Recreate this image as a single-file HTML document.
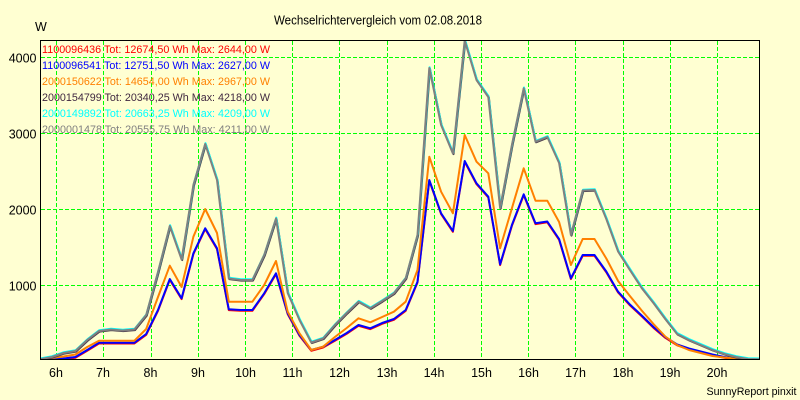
<!DOCTYPE html>
<html><head><meta charset="utf-8"><style>
html,body{margin:0;padding:0;background:#ffffd2;}
svg{display:block;}
text{font-family:"Liberation Sans",Arial,sans-serif;}
</style></head><body>
<svg width="800" height="400" viewBox="0 0 800 400" xmlns="http://www.w3.org/2000/svg">
<rect x="0" y="0" width="800" height="400" fill="#ffffd2"/>
<defs>
<clipPath id="pc"><rect x="40" y="40" width="720" height="320"/></clipPath>
<pattern id="hd" x="41" y="0" width="6" height="400" patternUnits="userSpaceOnUse"><rect x="0" y="0" width="4" height="400" fill="#00ff00"/></pattern>
</defs>
<text x="274" y="24.5" font-size="12.5" textLength="208" lengthAdjust="spacingAndGlyphs" fill="#000">Wechselrichtervergleich vom 02.08.2018</text>
<text x="35" y="31" font-size="12.5" fill="#000">W</text>
<g fill="url(#hd)" shape-rendering="crispEdges">
<rect x="41" y="57" width="718" height="1"/>
<rect x="41" y="133" width="718" height="1"/>
<rect x="41" y="209" width="718" height="1"/>
<rect x="41" y="285" width="718" height="1"/>
</g>
<g stroke="#00ff00" stroke-width="1" stroke-dasharray="4,2" fill="none" shape-rendering="crispEdges">
<line x1="56.5" y1="41" x2="56.5" y2="359"/>
<line x1="103.5" y1="41" x2="103.5" y2="359"/>
<line x1="151.5" y1="41" x2="151.5" y2="359"/>
<line x1="198.5" y1="41" x2="198.5" y2="359"/>
<line x1="245.5" y1="41" x2="245.5" y2="359"/>
<line x1="292.5" y1="41" x2="292.5" y2="359"/>
<line x1="339.5" y1="41" x2="339.5" y2="359"/>
<line x1="387.5" y1="41" x2="387.5" y2="359"/>
<line x1="434.5" y1="41" x2="434.5" y2="359"/>
<line x1="481.5" y1="41" x2="481.5" y2="359"/>
<line x1="528.5" y1="41" x2="528.5" y2="359"/>
<line x1="575.5" y1="41" x2="575.5" y2="359"/>
<line x1="623.5" y1="41" x2="623.5" y2="359"/>
<line x1="670.5" y1="41" x2="670.5" y2="359"/>
<line x1="717.5" y1="41" x2="717.5" y2="359"/>
</g>
<g font-size="11">
<text x="42" y="53" textLength="228" lengthAdjust="spacingAndGlyphs" fill="#ff0000">1100096436 Tot: 12674,50 Wh Max: 2644,00 W</text>
<text x="42" y="69" textLength="228" lengthAdjust="spacingAndGlyphs" fill="#0000ff">1100096541 Tot: 12751,50 Wh Max: 2627,00 W</text>
<text x="42" y="85" textLength="228" lengthAdjust="spacingAndGlyphs" fill="#ff8000">2000150622 Tot: 14654,00 Wh Max: 2967,00 W</text>
<text x="42" y="101" textLength="228" lengthAdjust="spacingAndGlyphs" fill="#402840">2000154799 Tot: 20340,25 Wh Max: 4218,00 W</text>
<text x="42" y="117" textLength="228" lengthAdjust="spacingAndGlyphs" fill="#00ffff">2000149892 Tot: 20663,25 Wh Max: 4209,00 W</text>
<text x="42" y="133" textLength="228" lengthAdjust="spacingAndGlyphs" fill="#808080">2000001478 Tot: 20555,75 Wh Max: 4211,00 W</text>
</g>
<g clip-path="url(#pc)" fill="none" stroke-width="2" stroke-linejoin="round">
<polyline transform="translate(0,0.8)" stroke="#ff0000" points="40,359.3 51.8,359.3 63.6,358.5 75.4,357 87.2,350 99,342.7 110.8,342.7 122.6,342.7 134.4,342.7 146.2,334 158,310 169.8,279 181.6,298.3 193.4,253.3 205.2,228.3 217,248.3 228.8,309.3 240.6,310 252.4,310 264.2,293.3 276,273.3 287.7,313.3 299.5,335 311.3,350 323.1,346.7 334.9,340 346.7,333 358.5,325 370.3,328.3 382.1,323 393.9,319 405.7,310 417.5,281.7 429.3,180 441.1,213.3 452.9,231 464.7,161 476.5,183.3 488.3,196.7 500.1,264.3 511.9,225 523.7,194.3 535.5,223.3 547.3,221.5 559.1,239 570.9,278.3 582.7,255 594.5,255 606.3,271.5 618.1,291.7 629.9,304.5 641.7,315.5 653.5,327 665.3,337 677.1,344.5 688.9,348.5 700.7,351.5 712.5,354.5 724.3,357 736.1,358.5 747.9,359.3"/>
<polyline stroke="#0000ff" points="40,359.3 51.8,359.3 63.6,358.5 75.4,357 87.2,350 99,342.7 110.8,342.7 122.6,342.7 134.4,342.7 146.2,334 158,310 169.8,279 181.6,298.3 193.4,253.3 205.2,228.3 217,248.3 228.8,309.3 240.6,310 252.4,310 264.2,293.3 276,273.3 287.7,313.3 299.5,335 311.3,350 323.1,346.7 334.9,340 346.7,333 358.5,325 370.3,328.3 382.1,323 393.9,319 405.7,310 417.5,281.7 429.3,180 441.1,213.3 452.9,231 464.7,161 476.5,183.3 488.3,196.7 500.1,264.3 511.9,225 523.7,194.3 535.5,223.3 547.3,221.5 559.1,239 570.9,278.3 582.7,255 594.5,255 606.3,271.5 618.1,291.7 629.9,304.5 641.7,315.5 653.5,327 665.3,337 677.1,344.5 688.9,348.5 700.7,351.5 712.5,354.5 724.3,357 736.1,358.5 747.9,359.3"/>
<polyline stroke="#ff8000" points="40,359.3 51.8,358 63.6,356.5 75.4,354.5 87.2,347 99,340.7 110.8,340.7 122.6,340.7 134.4,340.7 146.2,329 158,297 169.8,265.7 181.6,287 193.4,236.7 205.2,209 217,233 228.8,301.7 240.6,301.7 252.4,301.7 264.2,285 276,261 287.7,311.7 299.5,333.3 311.3,350 323.1,346.7 334.9,337 346.7,328 358.5,318.3 370.3,322.3 382.1,317 393.9,311.7 405.7,301.7 417.5,270 429.3,156.7 441.1,191.7 452.9,213.3 464.7,135 476.5,161.7 488.3,173.3 500.1,248.3 511.9,208.3 523.7,168.3 535.5,200.7 547.3,200.7 559.1,222 570.9,265 582.7,239 594.5,239 606.3,258.5 618.1,281 629.9,296 641.7,310.5 653.5,324 665.3,336.5 677.1,345 688.9,350 700.7,353 712.5,356 724.3,357.5 736.1,358.5 747.9,359.3 759,359.3"/>
<polyline transform="translate(0.6,0.6)" stroke="#4a3a4a" points="40,359.3 51.8,357 63.6,353 75.4,351 87.2,340 99,331 110.8,329.5 122.6,330.5 134.4,329.5 146.2,315 158,272 169.8,226 181.6,259.5 193.4,185 205.2,144 217,180 228.8,278.5 240.6,280 252.4,280 264.2,255 276,218.5 287.7,293 299.5,320 311.3,342.5 323.1,338.5 334.9,325 346.7,313 358.5,301.7 370.3,308.3 382.1,301 393.9,293.3 405.7,278.3 417.5,235 429.3,68 441.1,125 452.9,153.5 464.7,40.5 476.5,80 488.3,97 500.1,208 511.9,145 523.7,88.3 535.5,141.7 547.3,137 559.1,163 570.9,235 582.7,190.5 594.5,190 606.3,219 618.1,251.5 629.9,270 641.7,288 653.5,303 665.3,319 677.1,334 688.9,340 700.7,345 712.5,350 724.3,354 736.1,357 747.9,359 759,359.3"/>
<polyline transform="translate(0.3,-0.8)" stroke="#00ffff" points="40,359.3 51.8,357 63.6,353 75.4,351 87.2,340 99,331 110.8,329.5 122.6,330.5 134.4,329.5 146.2,315 158,272 169.8,226 181.6,259.5 193.4,185 205.2,144 217,180 228.8,278.5 240.6,280 252.4,280 264.2,255 276,218.5 287.7,293 299.5,320 311.3,342.5 323.1,338.5 334.9,325 346.7,313 358.5,301.7 370.3,308.3 382.1,301 393.9,293.3 405.7,278.3 417.5,235 429.3,68 441.1,125 452.9,153.5 464.7,40.5 476.5,80 488.3,97 500.1,208 511.9,145 523.7,88.3 535.5,141.7 547.3,137 559.1,163 570.9,235 582.7,190.5 594.5,190 606.3,219 618.1,251.5 629.9,270 641.7,288 653.5,303 665.3,319 677.1,334 688.9,340 700.7,345 712.5,350 724.3,354 736.1,357 747.9,359 759,359.3"/>
<polyline stroke="#808080" points="40,359.3 51.8,357 63.6,353 75.4,351 87.2,340 99,331 110.8,329.5 122.6,330.5 134.4,329.5 146.2,315 158,272 169.8,226 181.6,259.5 193.4,185 205.2,144 217,180 228.8,278.5 240.6,280 252.4,280 264.2,255 276,218.5 287.7,293 299.5,320 311.3,342.5 323.1,338.5 334.9,325 346.7,313 358.5,301.7 370.3,308.3 382.1,301 393.9,293.3 405.7,278.3 417.5,235 429.3,68 441.1,125 452.9,153.5 464.7,40.5 476.5,80 488.3,97 500.1,208 511.9,145 523.7,88.3 535.5,141.7 547.3,137 559.1,163 570.9,235 582.7,190.5 594.5,190 606.3,219 618.1,251.5 629.9,270 641.7,288 653.5,303 665.3,319 677.1,334 688.9,340 700.7,345 712.5,350 724.3,354 736.1,357 747.9,359 759,359.3"/>
</g>
<rect x="40.5" y="40.5" width="719" height="319" fill="none" stroke="#000" stroke-width="1" shape-rendering="crispEdges"/>
<g font-size="12.5" fill="#000" text-anchor="end">
<text x="36.5" y="62.5">4000</text>
<text x="36.5" y="138.5">3000</text>
<text x="36.5" y="214.5">2000</text>
<text x="36.5" y="290.5">1000</text>
</g>
<g font-size="12.5" fill="#000" text-anchor="middle">
<text x="56" y="377">6h</text>
<text x="103" y="377">7h</text>
<text x="150.5" y="377">8h</text>
<text x="198" y="377">9h</text>
<text x="245.5" y="377">10h</text>
<text x="292.5" y="377">11h</text>
<text x="339.5" y="377">12h</text>
<text x="387" y="377">13h</text>
<text x="434" y="377">14h</text>
<text x="481.5" y="377">15h</text>
<text x="528.5" y="377">16h</text>
<text x="575.5" y="377">17h</text>
<text x="623" y="377">18h</text>
<text x="670" y="377">19h</text>
<text x="717" y="377">20h</text>
</g>
<text x="706.5" y="395" font-size="11" textLength="90" lengthAdjust="spacingAndGlyphs" fill="#000">SunnyReport pinxit</text>
</svg>
</body></html>
